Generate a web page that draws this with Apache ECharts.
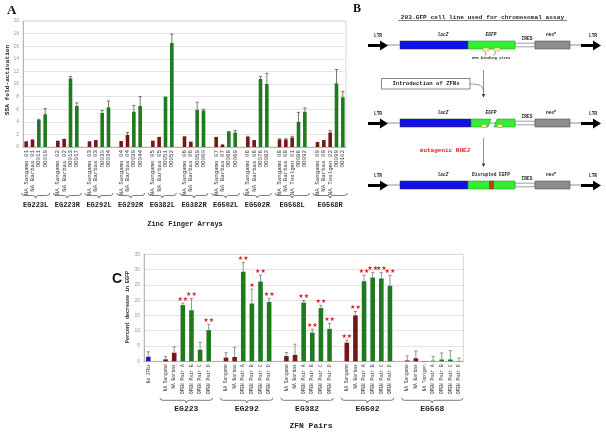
<!DOCTYPE html>
<html><head><meta charset="utf-8">
<script src="https://cdn.jsdelivr.net/npm/echarts@6/dist/echarts.min.js"></script>
<style>html,body{margin:0;padding:0;background:#fff}#c{width:606px;height:433px}</style>
</head><body><div id="c"></div><script>
// ---------- Panel A data ----------
const aGroups = ['EG223L','EG223R','EG292L','EG292R','EG382L','EG382R','EG502L','EG502R','EG568L','EG568R'];
const aLabels = [
  ['NA Sangamo 01','NA Barbas 01','OD011','OD019'],
  ['NA Sangamo 02','NA Barbas 02','OD013','OD017'],
  ['NA Sangamo 03','NA Barbas 03','OD030','OD034'],
  ['NA Sangamo 04','NA Barbas 04','OD039','OD044'],
  ['NA Sangamo 05','NA Barbas 05','OD051','OD052'],
  ['NA Sangamo 06','NA Barbas 06','OD059','OD060'],
  ['NA Sangamo 07','NA Barbas 07','OD068','OD069'],
  ['NA Sangamo 06','NA Barbas 06','OD076','OD082'],
  ['NA Sangamo 08','NA Barbas 08','NA Toolgen 01','OD086','OD092'],
  ['NA Sangamo 09','NA Barbas 09','NA Toolgen 02','OD099','OD102']
];
const aValues = [
  [0.9,1.2,4.3,5.2],[1.0,1.3,10.9,6.5],[0.9,1.1,5.4,6.3],[0.95,1.9,5.6,6.5],[1.0,1.6,8.0,16.5],
  [1.7,0.85,5.9,5.8],[1.6,0.4,2.5,2.3],[1.6,1.1,10.8,10.0],[1.2,1.2,1.5,4.0,5.6],[0.8,1.1,2.3,10.1,7.9]
];
const aErrors = [
  [0,0,0.1,0.9],[0,0,0.3,0.5],[0,0,0.4,1.0],[0,0.4,1.0,1.5],[0,0,0,1.4],
  [0,0,1.2,0.2],[0,0,0,0.3],[0.1,0,0.4,1.7],[0.1,0.1,0.2,1.5,0.6],[0,0,0.3,2.2,0.9]
];
const aTicks = {min:0, max:20, interval:2};

// ---------- Panel C data ----------
const cControl = {label:'No ZFNs', value:1.5, error:1.6};
const cGroups = ['EG223','EG292','EG382','EG502','EG568'];
const cLabels = [
  ['NA Sangamo','NA Barbas','OPEN Pair A','OPEN Pair B','OPEN Pair C','OPEN Pair D'],
  ['NA Sangamo','NA Barbas','OPEN Pair A','OPEN Pair B','OPEN Pair C','OPEN Pair D'],
  ['NA Sangamo','NA Barbas','OPEN Pair A','OPEN Pair B','OPEN Pair C','OPEN Pair D'],
  ['NA Sangamo','NA Barbas','OPEN Pair A','OPEN Pair B','OPEN Pair C','OPEN Pair D'],
  ['NA Sangamo','NA Barbas','NA Toolgen','OPEN Pair A','OPEN Pair B','OPEN Pair C','OPEN Pair D']
];
const cValues = [
  [0.65,2.8,18.4,16.7,3.8,10.2],
  [1.2,1.4,29.3,18.9,26.1,19.4],
  [1.7,2.1,19.2,9.4,17.4,10.6],
  [6.1,15.0,26.2,27.4,27.1,24.7],
  [0.3,1.0,0.1,0.2,0.6,0.6,0.1]
];
const cErrors = [
  [0.9,1.9,0.6,3.8,2.4,1.9],
  [1.6,3.2,3.0,4.7,2.1,1.2],
  [1.2,3.5,0.7,1.1,0.9,1.8],
  [0.8,1.3,2.0,1.6,2.0,3.4],
  [1.5,2.4,0.1,1.4,2.1,2.9,1.0]
];
const cStars = [
  ['','','**','**','','**'],
  ['','','**','*','**','**'],
  ['','','**','**','**','**'],
  ['**','**','**','**','**','**'],
  ['','','','','','','']
];
const cTicks = {min:0, max:35, interval:5};

// ---------- helpers ----------
const MONO = "'Liberation Mono','DejaVu Sans Mono',monospace";
const SANS = "'Liberation Sans','DejaVu Sans',sans-serif";
const RED = '#761616', GREEN = '#1f7a1f', BLUE = '#1c1cb8';
function colorOf(n){ if (n.indexOf('NA ')===0) return RED; if (n==='No ZFNs') return BLUE; return GREEN; }

function build(groups, labels, values, errors, stars, control){
  const names=[], vals=[], errs=[], strs=[], ranges=[];
  if (control){ names.push(control.label); vals.push(control.value); errs.push(control.error); strs.push(''); }
  groups.forEach((g,gi)=>{
    if (names.length){ names.push(''); vals.push(null); errs.push(null); strs.push(''); }
    const s = names.length;
    labels[gi].forEach((l,k)=>{ names.push(l); vals.push(values[gi][k]); errs.push(errors[gi][k]); strs.push(stars?stars[gi][k]:''); });
    ranges.push([s, 0, names.length-1, gi]);
  });
  return {names, vals, errs, strs, ranges};
}
const A = build(aGroups, aLabels, aValues, aErrors, null, null);
const C = build(cGroups, cLabels, cValues, cErrors, cStars, cControl);

function barData(D){ return D.vals.map((v,i)=> v==null ? null : {value:v, itemStyle:{color:colorOf(D.names[i])}}); }
function errData(D){ const out=[]; D.vals.forEach((v,i)=>{ if(v!=null) out.push([i, v, v+D.errs[i]]); }); return out; }
function starData(D){ const out=[]; D.vals.forEach((v,i)=>{ if(v!=null && D.strs[i]) out.push([i, v+D.errs[i], D.strs[i]]); }); return out; }

function errRender(color){ return function(params, api){
  const x = api.value(0);
  const p0 = api.coord([x, api.value(1)]), p1 = api.coord([x, api.value(2)]);
  if (p0[1]-p1[1] < 0.5) return null;
  const cap = 1.6;
  return {type:'group', children:[
    {type:'line', shape:{x1:p0[0],y1:p0[1],x2:p1[0],y2:p1[1]}, style:{stroke:color, lineWidth:0.8}},
    {type:'line', shape:{x1:p1[0]-cap,y1:p1[1],x2:p1[0]+cap,y2:p1[1]}, style:{stroke:color, lineWidth:0.8}}
  ]};
};}

function braceRender(groups, o){ return function(params, api){
  const s = api.value(0), e = api.value(2), gi = api.value(3);
  const slot = api.size([1,0])[0];
  const base = api.coord([s,0]);
  const x0 = base[0] - slot*o.padL, x1 = api.coord([e,0])[0] + slot*o.padR;
  const y = base[1] + o.off, h = o.h, m = (x0+x1)/2, r = 3;
  const path = `M${x0} ${y} Q${x0} ${y+h/2} ${x0+r} ${y+h/2} L${m-r} ${y+h/2} Q${m} ${y+h/2} ${m} ${y+h} Q${m} ${y+h/2} ${m+r} ${y+h/2} L${x1-r} ${y+h/2} Q${x1} ${y+h/2} ${x1} ${y}`;
  return {type:'group', children:[
    {type:'path', shape:{pathData:path}, style:{stroke:'#444', fill:null, lineWidth:0.7}},
    {type:'text', style:{text:groups[gi], x:m, y:y+h+o.tg, align:'center', verticalAlign:'top',
      fill:'#222', font:`bold ${o.fs}px ${MONO}`}}
  ]};
};}

function starRender(params, api){
  const p = api.coord([api.value(0), api.value(1)]);
  return {type:'text', style:{text: api.value(2)==='**' ? '★★' : '★', x:p[0], y:p[1]-1, align:'center', verticalAlign:'bottom',
    fill:'#e01818', font:`6px 'DejaVu Sans',sans-serif`}};
}

function xAxisOf(D, grid, fs){
  return {type:'category', gridIndex:grid, data:D.names.map((n,i)=>String(i)),
    axisTick:{show:false}, axisLine:{lineStyle:{color:'#aaa', width:0.8}},
    axisLabel:{interval:0, rotate:90, margin:3, fontSize:fs, fontFamily:MONO, color:'#333',
      formatter:(v)=>D.names[+v]}};
}
function yAxisOf(t, grid){
  return {type:'value', gridIndex:grid, min:t.min, max:t.max, interval:t.interval,
    axisLine:{show:true, lineStyle:{color:'#aaa', width:0.8}}, axisTick:{show:false},
    axisLabel:{fontSize:5, color:'#999', margin:4, fontFamily:SANS},
    splitLine:{lineStyle:{color:'#ddd', width:0.8}}};
}

// ---------- Panel B diagram (decorative schematic) ----------
function arrowR(x, y){ return {type:'polygon', shape:{points:[[x,y-1.6],[x+12,y-1.6],[x+12,y-5],[x+20,y],[x+12,y+5],[x+12,y+1.6],[x,y+1.6]]}, style:{fill:'#000'}}; }
function txt(t, x, y, fs, opts, extra){ return Object.assign({type:'text', style:Object.assign({text:t, x:x, y:y, align:'center', verticalAlign:'middle', fill:'#222', font:`bold ${fs}px ${MONO}`}, opts||{})}, extra||{}); }
function row(yc, kind){
  const top = yc-4, h = 8, els = [];
  els.push({type:'line', shape:{x1:385,y1:yc,x2:585,y2:yc}, style:{stroke:'#777', lineWidth:0.8}});
  els.push(arrowR(368, yc+0.5));
  els.push(arrowR(581, yc+0.5));
  els.push({type:'rect', shape:{x:515,y:yc-1.8,width:20,height:3.6}, style:{fill:'#fff', stroke:'#888', lineWidth:0.8}});
  els.push({type:'rect', shape:{x:535,y:top,width:35,height:h}, style:{fill:'#8c8c8c', stroke:'#555', lineWidth:0.6}});
  if (kind===2){
    els.push({type:'rect', shape:{x:400,y:top,width:71,height:h}, style:{fill:'#1010e8', stroke:'#333', lineWidth:0.5}});
    els.push({type:'polygon', shape:{points:[[471,top],[491,top],[488,top+h],[471,top+h]]}, style:{fill:'#33ee33', stroke:'#1a8a1a', lineWidth:0.5}});
    els.push({type:'polygon', shape:{points:[[497,top],[515,top],[515,top+h],[494,top+h]]}, style:{fill:'#33ee33', stroke:'#1a8a1a', lineWidth:0.5}});
    els.push({type:'rect', shape:{x:481.5,y:top+h-2.5,width:5,height:3}, style:{fill:'#ffff7a', stroke:'#888', lineWidth:0.5}});
    els.push({type:'rect', shape:{x:497.5,y:top+h-2.5,width:5,height:3}, style:{fill:'#ffff7a', stroke:'#888', lineWidth:0.5}});
  } else {
    els.push({type:'rect', shape:{x:400,y:top,width:68,height:h}, style:{fill:'#1010e8', stroke:'#333', lineWidth:0.5}});
    els.push({type:'rect', shape:{x:468,y:top,width:47,height:h}, style:{fill:'#33ee33', stroke:'#1a8a1a', lineWidth:0.5}});
    if (kind===1){
      els.push({type:'rect', shape:{x:483,y:top+h-1,width:6,height:3}, style:{fill:'#ffff7a', stroke:'#888', lineWidth:0.5}});
      els.push({type:'rect', shape:{x:494,y:top+h-1,width:6,height:3}, style:{fill:'#ffff7a', stroke:'#888', lineWidth:0.5}});
    } else {
      els.push({type:'rect', shape:{x:489.5,y:top,width:4,height:h}, style:{fill:'#c83a12', stroke:'#7a2000', lineWidth:0.4}});
    }
  }
  const ly = yc-9;
  els.push(txt('LTR', 378, ly-0.5, 4.5));
  els.push(txt('LTR', 593, ly-0.5, 4.5));
  els.push(txt('lacZ', 443, ly-1, 4.5, {font:`bold italic 4.5px ${MONO}`}));
  els.push(txt(kind===3 ? 'Disrupted EGFP' : 'EGFP', 491, ly-1, 4.5, kind===3?{}:{font:`bold italic 4.5px ${MONO}`}));
  els.push(txt('IRES', 527, yc-6.5, 4.5));
  els.push({type:'text', style:{text:'neo{s|R}', x:551, y:ly-1, align:'center', verticalAlign:'middle', fill:'#222', font:`bold 4.5px ${MONO}`, rich:{s:{fontSize:3, verticalAlign:'top', fontFamily:MONO, fontWeight:'bold', padding:[0,0,3,0]}}}});
  return els;
}
const bElements = [
  {type:'text', style:{text:'B', x:353, y:3, fill:'#111', font:"bold 12px 'Liberation Serif',serif"}},
  txt('293.GFP cell line used for chromosomal assay', 482.5, 17, 6.2),
  {type:'line', shape:{x1:398,y1:20.5,x2:567,y2:20.5}, style:{stroke:'#333', lineWidth:0.6}},
  ...row(45, 1),
  txt('ZFN binding sites', 491, 58.5, 3.8),
  {type:'line', shape:{x1:486,y1:55.5,x2:485,y2:51.5}, style:{stroke:'#333', lineWidth:0.5}},
  {type:'line', shape:{x1:494,y1:55.5,x2:496,y2:51.5}, style:{stroke:'#333', lineWidth:0.5}},
  {type:'line', shape:{x1:483.5,y1:70,x2:483.5,y2:95}, style:{stroke:'#444', lineWidth:0.6}},
  {type:'polygon', shape:{points:[[481.8,94],[485.2,94],[483.5,97.5]]}, style:{fill:'#333'}},
  {type:'rect', shape:{x:381.5,y:78.5,width:88.5,height:10.5}, style:{fill:'#fff', stroke:'#555', lineWidth:0.7}},
  txt('Introduction of ZFNs', 426, 84, 5.6),
  {type:'bezierCurve', shape:{x1:470,y1:84,x2:483.5,y2:92,cpx1:480,cpy1:84,cpx2:483.5,cpy2:86}, style:{stroke:'#555', fill:null, lineWidth:0.6}},
  ...row(123, 2),
  txt('mutagenic NHEJ', 445, 150.5, 6, {fill:'#e02020'}),
  {type:'line', shape:{x1:483.5,y1:138,x2:483.5,y2:164}, style:{stroke:'#444', lineWidth:0.6}},
  {type:'polygon', shape:{points:[[481.8,163.5],[485.2,163.5],[483.5,167]]}, style:{fill:'#333'}},
  ...row(185, 3)
];

const otherText = [
  {type:'text', style:{text:'A', x:7, y:4, fill:'#111', font:"bold 13px 'Liberation Serif',serif"}},
  {type:'text', style:{text:'C', x:112, y:272, fill:'#111', font:`bold 14px ${SANS}`}},
  txt('SSA fold-activation', 0, 0, 6.2, {}, {x:7.5, y:80, rotation:Math.PI/2}),
  txt('Percent decrease in EGFP', 0, 0, 5, {}, {x:128, y:307, rotation:Math.PI/2}),
  txt('Zinc Finger Arrays', 185, 224.5, 7),
  txt('ZFN Pairs', 311, 426, 8)
];

const chart = echarts.init(document.getElementById('c'), null, {renderer:'canvas'});
chart.setOption({
  animation:false,
  backgroundColor:'#fff',
  grid:[
    {left:23, top:21, width:323, height:126, show:true, borderColor:'#ccc', borderWidth:0.8},
    {left:144, top:254.3, width:319.3, height:107, show:true, borderColor:'#ccc', borderWidth:0.8}
  ],
  xAxis:[ xAxisOf(A, 0, 5.8), xAxisOf(C, 1, 4.5) ],
  yAxis:[ yAxisOf(aTicks, 0), yAxisOf(cTicks, 1) ],
  series:[
    {type:'bar', xAxisIndex:0, yAxisIndex:0, barWidth:3.6, data:barData(A)},
    {type:'custom', xAxisIndex:0, yAxisIndex:0, renderItem:errRender('#555'), data:errData(A), encode:{x:0,y:1}, z:3},
    {type:'custom', xAxisIndex:0, yAxisIndex:0, renderItem:braceRender(aGroups,{padL:0.72,padR:0.72,off:46,h:5,tg:4,fs:7}), data:A.ranges, encode:{x:0,y:1}, clip:false, z:3},
    {type:'bar', xAxisIndex:1, yAxisIndex:1, barWidth:4.6, data:barData(C)},
    {type:'custom', xAxisIndex:1, yAxisIndex:1, renderItem:errRender('#777'), data:errData(C), encode:{x:0,y:1}, z:3},
    {type:'custom', xAxisIndex:1, yAxisIndex:1, renderItem:starRender, data:starData(C), encode:{x:0,y:1}, clip:false, z:4},
    {type:'custom', xAxisIndex:1, yAxisIndex:1, renderItem:braceRender(cGroups,{padL:0.65,padR:0.45,off:36.5,h:5,tg:2.5,fs:8}), data:C.ranges, encode:{x:0,y:1}, clip:false, z:3}
  ],
  graphic:{elements:[...bElements, ...otherText]}
});
</script></body></html>
